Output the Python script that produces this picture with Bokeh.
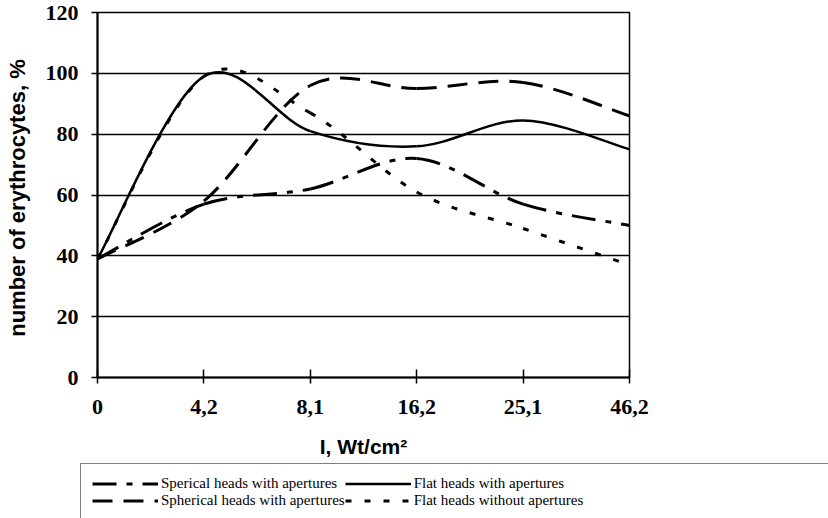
import numpy as np
from bokeh.plotting import figure
from bokeh.models import (Range1d, FixedTicker, ColumnDataSource, Legend,
                          LegendItem)
from bokeh.embed import file_html
from bokeh.resources import INLINE

# ---- data ----
x_labels = ["0", "4,2", "8,1", "16,2", "25,1", "46,2"]
y_ticks = [0, 20, 40, 60, 80, 100, 120]
sperical_with = [39, 57, 62, 72, 57, 50]       # dash-dot
flat_with = [39, 99, 81, 76, 84.5, 75]         # solid
spherical_with = [39, 58, 96, 95, 97, 86]      # long dash
flat_without = [39, 99, 87, 61, 49, 37]        # short dash

series_names = ["Sperical heads with apertures", "Spherical heads with apertures",
                "Flat heads with apertures", "Flat heads without apertures"]

styles = {
    "sperical": dict(line_width=3, line_dash="24 10 6 10"),
    "spherical": dict(line_width=3, line_dash="20 11"),
    "flat_with": dict(line_width=2.5, line_dash="solid"),
    "flat_without": dict(line_width=3, line_dash="6 13"),
}


def smooth_source(values):
    """Cubic Bezier segments between the data points (Excel-like smoothed line)."""
    xs = np.arange(len(values), dtype=float)
    ys = np.asarray(values, dtype=float)
    n = len(ys)

    def pt(i):
        i = min(max(i, 0), n - 1)
        return xs[i], ys[i]

    d = dict(x0=[], y0=[], x1=[], y1=[], cx0=[], cy0=[], cx1=[], cy1=[])
    for i in range(n - 1):
        xa, ya = pt(i - 1)
        xb, yb = pt(i)
        xc, yc = pt(i + 1)
        xd, yd = pt(i + 2)
        d["x0"].append(xb); d["y0"].append(yb)
        d["x1"].append(xc); d["y1"].append(yc)
        d["cx0"].append(xb + (xc - xa) / 6); d["cy0"].append(yb + (yc - ya) / 6)
        d["cx1"].append(xc - (xd - xb) / 6); d["cy1"].append(yc - (yd - yb) / 6)
    return ColumnDataSource(d)


# ---------------- main chart ----------------
p = figure(width=828, height=462, output_backend="svg", toolbar_location=None,
           x_range=Range1d(0, len(x_labels) - 1), y_range=Range1d(0, 120),
           min_border_left=97, min_border_right=199, min_border_top=12,
           min_border_bottom=85)

p.background_fill_color = "white"
p.border_fill_color = "white"
p.outline_line_color = "black"
p.outline_line_width = 1.5

p.xgrid.visible = False
p.ygrid.ticker = FixedTicker(ticks=y_ticks)
p.ygrid.grid_line_color = "black"
p.ygrid.grid_line_width = 1.5

p.xaxis.ticker = FixedTicker(ticks=list(range(len(x_labels))))
p.xaxis.major_label_overrides = {i: lab for i, lab in enumerate(x_labels)}
p.xaxis.axis_label = "I, Wt/cm\u00b2"
p.xaxis.major_tick_in = 8
p.xaxis.major_tick_out = 6
p.xaxis.major_label_standoff = 16
p.xaxis.axis_label_standoff = 18

p.yaxis.ticker = FixedTicker(ticks=y_ticks)
p.yaxis.axis_label = "number of erythrocytes,  %"
p.yaxis.major_tick_in = 0
p.yaxis.major_tick_out = 6
p.yaxis.major_label_standoff = 13
p.yaxis.axis_label_standoff = 13

for ax in (p.xaxis[0], p.yaxis[0]):
    ax.minor_tick_line_color = None
    ax.axis_line_color = "black"
    ax.axis_line_width = 2
    ax.major_tick_line_color = "black"
    ax.major_tick_line_width = 1.5
    ax.major_label_text_font = "Liberation Serif"
    ax.major_label_text_font_style = "bold"
    ax.major_label_text_font_size = "22px"
    ax.major_label_text_color = "black"
    ax.axis_label_text_font = "Liberation Sans"
    ax.axis_label_text_font_style = "bold"
    ax.axis_label_text_font_size = "21px"
    ax.axis_label_text_color = "black"
p.yaxis.axis_label_text_font_size = "22px"

common = dict(x0="x0", y0="y0", x1="x1", y1="y1", cx0="cx0", cy0="cy0",
              cx1="cx1", cy1="cy1", line_color="black")
p.bezier(source=smooth_source(sperical_with), **styles["sperical"], **common)
p.bezier(source=smooth_source(spherical_with), **styles["spherical"], **common)
p.bezier(source=smooth_source(flat_without), **styles["flat_without"], **common)
p.bezier(source=smooth_source(flat_with), **styles["flat_with"], **common)

# ---------------- legend strip (separate root, not frame-aligned) ----------------
lg = figure(width=828, height=56, output_backend="svg", toolbar_location=None,
            x_range=Range1d(0, 1), y_range=Range1d(0, 1),
            x_axis_location=None, y_axis_location=None, min_border=0,
            min_border_left=0, min_border_right=0, min_border_top=0,
            min_border_bottom=0)
lg.grid.visible = False
lg.outline_line_color = None
lg.background_fill_color = "white"
lg.border_fill_color = "white"

# legend sample renderers: no visible marks (single NaN point), only styles
nan_src = ColumnDataSource(dict(x=[np.nan], y=[np.nan]))
sample = {k: lg.line(x="x", y="y", source=nan_src, line_color="black", **v)
          for k, v in styles.items()}
blank = lg.line(x="x", y="y", source=nan_src, line_alpha=0)

legend = Legend(items=[
    LegendItem(label=series_names[0], renderers=[sample["sperical"]]),
    LegendItem(label=series_names[1], renderers=[sample["spherical"]]),
    LegendItem(label=series_names[2], renderers=[sample["flat_with"]]),
    LegendItem(label=series_names[3], renderers=[sample["flat_without"]]),
    LegendItem(label=" ", renderers=[blank]),
    LegendItem(label=" ", renderers=[blank]),
], location=(80, -3), ncols=3, orientation="vertical",
    glyph_width=66, glyph_height=17, label_height=17, label_width=181,
    label_standoff=3, spacing=0, padding=11, margin=0,
    label_text_font="Liberation Serif", label_text_font_size="15px",
    label_text_color="black", border_line_color="black", border_line_width=1.5,
    background_fill_alpha=0)
lg.add_layout(legend)

open("out.html", "w").write(file_html([p, lg], INLINE))
